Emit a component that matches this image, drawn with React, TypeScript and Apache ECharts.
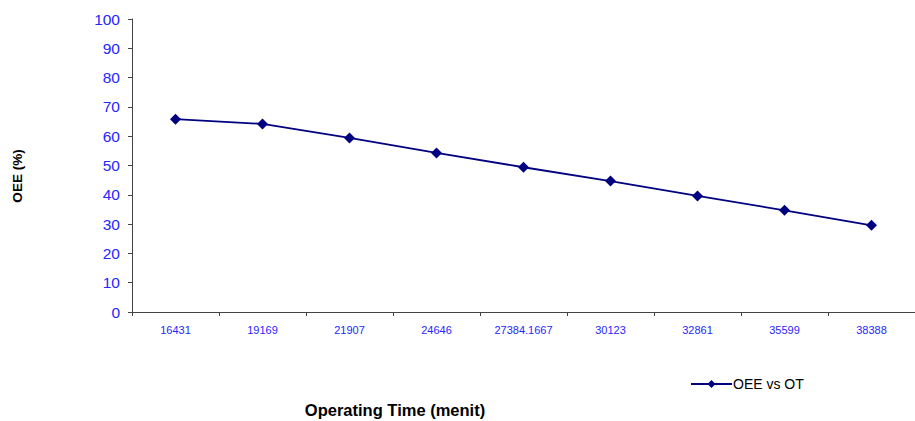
import React, { useEffect, useRef } from "react";
import * as echarts from "echarts";

// Operating time (minutes) on the category axis
const operatingTime = [
  "16431",
  "19169",
  "21907",
  "24646",
  "27384.1667",
  "30123",
  "32861",
  "35599",
  "38388",
];

// OEE (%) for each operating time
const oeeValues = [65.8, 64.2, 59.4, 54.3, 49.4, 44.7, 39.6, 34.7, 29.6];

const seriesName = "OEE vs OT";
const yTicks = { min: 0, max: 100, interval: 10 };

const FONT = "'Liberation Sans', Arial, sans-serif";
const LABEL_BLUE = "#2626ff";
const NAVY = "#000080";

export default function App() {
  const ref = useRef<HTMLDivElement>(null);

  useEffect(() => {
    if (!ref.current) return;
    const chart = echarts.init(ref.current, undefined, { renderer: "svg" });
    chart.setOption({
      animation: false,
      backgroundColor: "#ffffff",
      // plot runs past the right edge of the canvas, so the last category is cut
      grid: { left: 132, top: 19, height: 293, width: 795, containLabel: false },
      xAxis: {
        type: "category",
        data: operatingTime,
        boundaryGap: true,
        axisLine: { lineStyle: { color: "#444", width: 1 } },
        axisTick: { show: true, length: 4, alignWithLabel: false, lineStyle: { color: "#444" } },
        axisLabel: {
          color: LABEL_BLUE,
          fontFamily: FONT,
          fontSize: 11,
          margin: 12,
          interval: 0,
        },
        splitLine: { show: false },
      },
      yAxis: {
        type: "value",
        min: yTicks.min,
        max: yTicks.max,
        interval: yTicks.interval,
        axisLine: { show: true, lineStyle: { color: "#444", width: 1 } },
        axisTick: { show: true, length: 4, lineStyle: { color: "#444" } },
        axisLabel: {
          color: LABEL_BLUE,
          fontFamily: FONT,
          fontSize: 15.5,
          margin: 12,
        },
        splitLine: { show: false },
      },
      legend: {
        show: true,
        left: 690,
        top: 377,
        padding: 0,
        itemWidth: 41,
        itemHeight: 10,
        itemGap: 2,
        textStyle: { color: "#000", fontFamily: FONT, fontSize: 14, padding: [0, 0, 0, -4] },
        data: [seriesName],
      },
      graphic: [
        {
          type: "text",
          x: 17,
          y: 176,
          rotation: Math.PI / 2,
          style: {
            text: "OEE (%)",
            fontFamily: FONT,
            fontWeight: "bold",
            fontSize: 13.5,
            fill: "#000",
            align: "center",
            verticalAlign: "middle",
          },
        },
        {
          type: "text",
          x: 395,
          y: 410,
          style: {
            text: "Operating Time (menit)",
            fontFamily: FONT,
            fontWeight: "bold",
            fontSize: 16.5,
            fill: "#000",
            align: "center",
            verticalAlign: "middle",
          },
        },
      ],
      series: [
        {
          name: seriesName,
          type: "line",
          data: oeeValues,
          symbol: "diamond",
          symbolSize: 11,
          itemStyle: { color: NAVY },
          lineStyle: { color: NAVY, width: 1.8 },
        },
      ],
    });
    return () => chart.dispose();
  }, []);

  return <div ref={ref} style={{ width: 915, height: 421, position: "absolute", left: 0, top: 0 }} />;
}
